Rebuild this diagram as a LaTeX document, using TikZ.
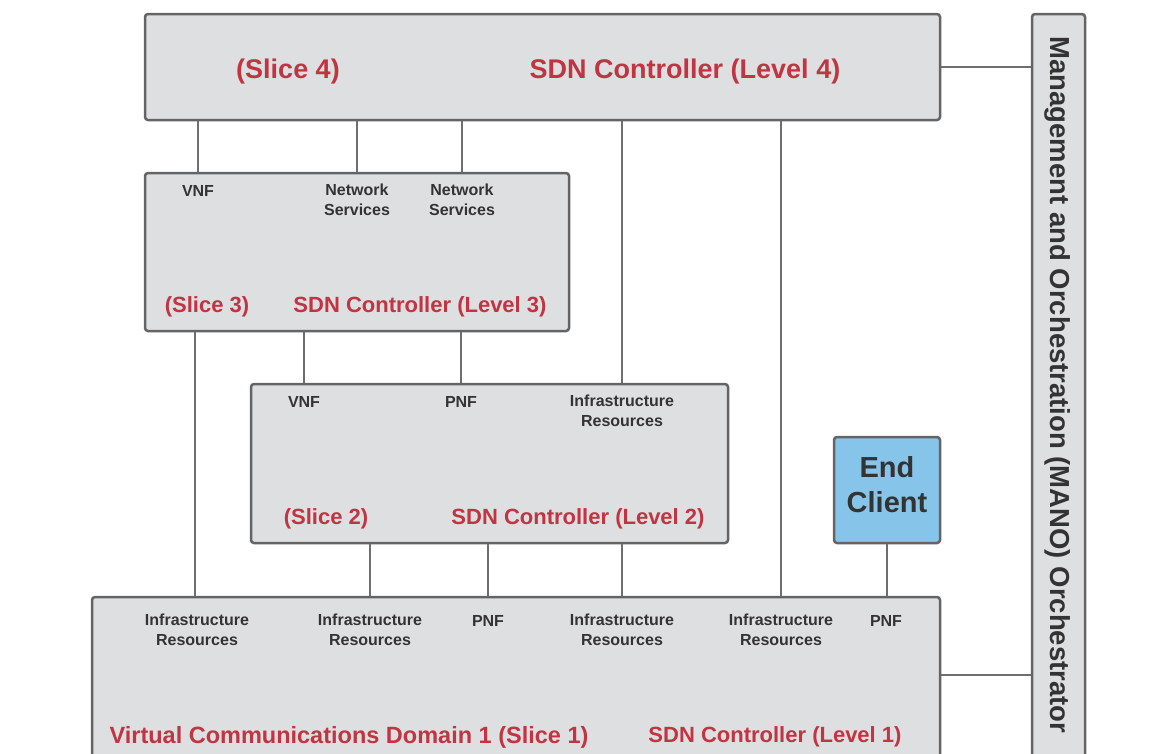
\documentclass[tikz,border=0pt]{standalone}
\usepackage{fontspec}
\setmainfont{Liberation Sans}
\usetikzlibrary{positioning}

\definecolor{boxgrey}{HTML}{DEDFE1}
\definecolor{edgegrey}{HTML}{646464}
\definecolor{linegrey}{HTML}{6E6E6E}
\definecolor{labelgrey}{HTML}{333333}
\definecolor{titlered}{HTML}{C13441}
\definecolor{clientblue}{HTML}{86C5E9}

\begin{document}
\begin{tikzpicture}[x=1pt,y=-1pt,
box/.style={draw=edgegrey, fill=boxgrey, line width=2.5pt, rounded corners=3pt, inner sep=0pt},
client/.style={box, fill=clientblue},
item/.style={text=labelgrey, font=\bfseries\fontsize{16}{19.5}\selectfont, align=center, inner sep=0pt},
title/.style={text=titlered, font=\bfseries\fontsize{22}{26}\selectfont, inner sep=0pt},
bigtitle/.style={title, font=\bfseries\fontsize{27}{32}\selectfont},
link/.style={draw=linegrey, line width=1.5pt},
]
\clip (0,0) rectangle (1164,753);

% boxes
\node[box, minimum width=795pt, minimum height=106pt] (l4) at (542.5,67) {};
\node[box, minimum width=424pt, minimum height=158pt] (l3) at (357,252) {};
\node[box, minimum width=477pt, minimum height=159pt] (l2) at (489.5,463.5) {};
\node[box, minimum width=848pt, minimum height=173pt] (l1) at (516,683.5) {};
\node[client, minimum width=106pt, minimum height=106pt] (client) at (887,490) {};
\node[text=labelgrey, font=\bfseries\fontsize{29}{35}\selectfont, align=center, inner sep=0pt] (clienttext) at (887,485) {End\\Client};
\node[box, minimum width=53pt, minimum height=756pt] (mano) at (1058.5,392) {};
\node[text=labelgrey, font=\bfseries\fontsize{27.5}{32}\selectfont, rotate=-90] (manotext) at (1058,385)
  {Management and Orchestration (MANO) Orchestrator};

% level 4
\node[bigtitle] (l4slice) at (288,72) {(Slice 4)};
\node[bigtitle] (l4sdn) at (685,72) {SDN Controller (Level 4)};

% level 3
\node[item] (l3vnf) at (198,191) {VNF};
\node[item] (l3ns1) at (357,200) {Network\\Services};
\node[item] (l3ns2) at (462,200) {Network\\Services};
\node[title] (l3slice) at (207,307) {(Slice 3)};
\node[title] (l3sdn) at (420,307) {SDN Controller (Level 3)};

% level 2
\node[item] (l2vnf) at (304,402) {VNF};
\node[item] (l2pnf) at (461,402) {PNF};
\node[item] (l2ir) at (622,411) {Infrastructure\\Resources};
\node[title] (l2slice) at (326,519) {(Slice 2)};
\node[title] (l2sdn) at (578,519) {SDN Controller (Level 2)};

% level 1
\node[item] (l1ir1) at (197,630) {Infrastructure\\Resources};
\node[item] (l1ir2) at (370,630) {Infrastructure\\Resources};
\node[item] (l1pnf1) at (488,621) {PNF};
\node[item] (l1ir3) at (622,630) {Infrastructure\\Resources};
\node[item] (l1ir4) at (781,630) {Infrastructure\\Resources};
\node[item] (l1pnf2) at (886,621) {PNF};
\node[title, font=\bfseries\fontsize{23.5}{28}\selectfont] (l1slice) at (349,737) {Virtual Communications Domain 1 (Slice 1)};
\node[title] (l1sdn) at (775,737) {SDN Controller (Level 1)};

% links
\draw[link] (l4.south -| l3vnf) -- (l3.north -| l3vnf);
\draw[link] (l4.south -| l3ns1) -- (l3.north -| l3ns1);
\draw[link] (l4.south -| l3ns2) -- (l3.north -| l3ns2);
\draw[link] (l4.south -| l2ir) -- (l2.north -| l2ir);
\draw[link] (l4.south -| l1ir4) -- (l1.north -| l1ir4);
\draw[link] (l3.south -| l2vnf) -- (l2.north -| l2vnf);
\draw[link] (l3.south -| l2pnf) -- (l2.north -| l2pnf);
\draw[link] ([xshift=-2pt]l3.south -| l1ir1) -- ([xshift=-2pt]l1.north -| l1ir1);
\draw[link] (l2.south -| l1ir2) -- (l1.north -| l1ir2);
\draw[link] (l2.south -| l1pnf1) -- (l1.north -| l1pnf1);
\draw[link] (l2.south -| l1ir3) -- (l1.north -| l1ir3);
\draw[link] (client) -- (l1.north -| client);
\draw[link] (l4.east) -- (l4.east -| mano.west);
\draw[link] ([yshift=8.5pt]l1.east) -- ([yshift=8.5pt]l1.east -| mano.west);
\end{tikzpicture}
\end{document}
